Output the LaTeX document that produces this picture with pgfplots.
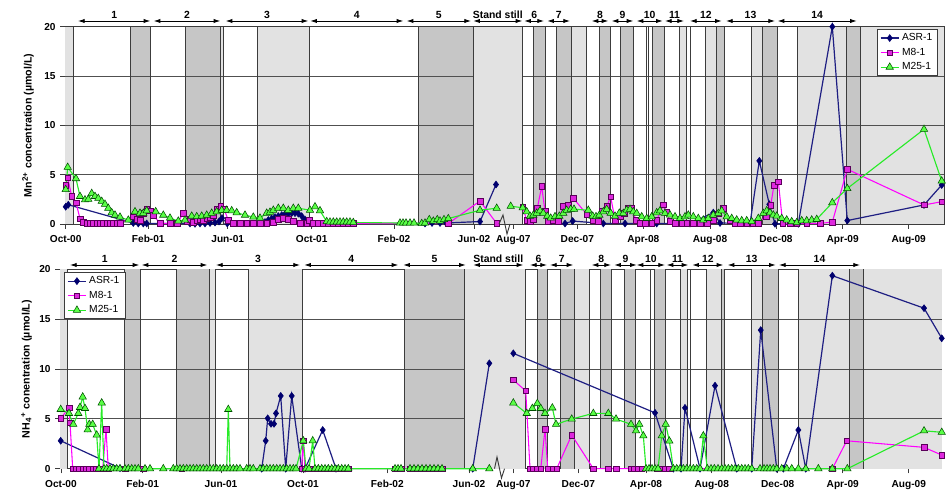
\documentclass[border=0pt]{standalone}
\usepackage{pgfplots}
\pgfplotsset{compat=1.18}
\usepackage{fontspec}
\setmainfont{Liberation Sans}
\usetikzlibrary{arrows.meta}

\definecolor{bandL}{RGB}{226,226,226}
\definecolor{bandD}{RGB}{198,198,198}
\definecolor{edge}{RGB}{60,60,60}
\definecolor{gridc}{RGB}{80,80,80}
\definecolor{navyline}{RGB}{30,30,130}
\definecolor{navyfill}{RGB}{0,0,110}
\definecolor{magline}{RGB}{255,0,255}
\definecolor{magfill}{RGB}{222,40,222}
\definecolor{magedge}{RGB}{90,0,90}
\definecolor{grnline}{RGB}{40,235,40}
\definecolor{grnfill}{RGB}{90,255,70}
\definecolor{grnedge}{RGB}{0,80,0}

% shaded phase band from x=#2 to x=#3
\newcommand{\band}[3]{\addplot[draw=none,fill=#1,forget plot] coordinates {(#2,20) (#3,20)} \closedcycle;}
% horizontal grid segment at level #3 between x=#1 and x=#2
\newcommand{\hgrid}[3]{\addplot[draw=gridc,line width=0.6pt,forget plot] coordinates {(#1,#3) (#2,#3)};}

\pgfplotsset{
  panel/.style={
    scale only axis, ymin=0, ymax=20, ytick={0,5,10,15,20},
    axis line style={draw=edge,line width=0.6pt},
    tick style={draw=edge,line width=0.6pt},
    tick align=outside, major tick length=3.5pt, tick pos=left,
    /pgf/number format/assume math mode=true,
    ticklabel style={font=\fontsize{7.6}{9}\selectfont\bfseries},
    xticklabel style={yshift=-1.5pt},
    label style={font=\fontsize{8}{9.6}\selectfont\bfseries},
    unbounded coords=jump, clip=false,
    legend style={draw=edge,fill=white,font=\fontsize{7.7}{9}\selectfont,
      inner xsep=2pt,inner ysep=1pt,row sep=0pt,cells={anchor=west}},
    legend image code/.code={\draw[mark repeat=2,mark phase=2,##1]
      plot coordinates {(0pt,0pt) (6.75pt,0pt) (13.5pt,0pt)};},
  },
  asr/.style={draw=navyline,line width=0.9pt,mark=diamond*,mark size=2.6pt,
    mark options={fill=navyfill,draw=navyfill,line width=0.4pt}},
  m8/.style={draw=magline,line width=0.8pt,mark=square*,mark size=2.1pt,
    mark options={fill=magfill,draw=magedge,line width=0.4pt}},
  m25/.style={draw=grnline,line width=0.85pt,mark=triangle*,mark size=3.2pt,
    mark options={fill=grnfill,draw=grnedge,line width=0.4pt}},
}

\tikzset{
  arr/.style={{Latex[length=5pt,width=3.2pt]}-{Latex[length=5pt,width=3.2pt]},line width=0.6pt},
  phl/.style={font=\fontsize{7.8}{9}\selectfont\bfseries,inner sep=0pt},
}
% phase arrow from #1 to #2 at height #4 with label #3
\newcommand{\phase}[4]{\draw[arr] (#1,#4) -- (#2,#4); \node[phl] at ({(#1+#2)/2},{#4-6.5}) {#3};}

\begin{document}
\begin{tikzpicture}
\path[use as bounding box] (0,0) rectangle (714pt,371.25pt);

% ---------------- Mn2+ panel ----------------
\begin{axis}[panel,
  at={(48.75pt,203.25pt)}, anchor=south west,
  width=659.25pt, height=147.98pt,
  xmin=65, xmax=944,
  xtick={65.7,148.3,227.7,311.7,394,474,513.3,577.3,643.3,710,776,842.7,908.7},
  xticklabels={Oct-00,Feb-01,Jun-01,Oct-01,Feb-02,Jun-02,Aug-07,Dec-07,Apr-08,Aug-08,Dec-08,Apr-09,Aug-09},
  ylabel={Mn\textsuperscript{2+} concentration (µmol/L)},
  ylabel style={at={(axis description cs:-0.042,0.5)},anchor=center},
  legend style={at={(0.924,0.987)},anchor=north west},
]
\band{bandL}{65}{73.5}
\band{bandD}{130.7}{150.3}
\band{bandD}{185}{220.5}
\band{bandL}{220.5}{223}
\band{bandL}{257.3}{309.3}
\band{bandD}{418.5}{473.3}
\band{bandD}{533.3}{545.5}
\band{bandD}{556.7}{571}
\band{bandL}{571}{586.7}
\band{bandD}{599}{610.3}
\band{bandD}{620.7}{633.3}
\band{bandD}{652.7}{664}
\band{bandL}{679.3}{686.7}
\band{bandL}{705.7}{716.7}
\band{bandD}{716.7}{724.5}
\band{bandL}{751.7}{762.5}
\band{bandD}{762.5}{777.7}
\band{bandL}{797.7}{846.7}
\band{bandD}{846.7}{860.7}
\band{bandL}{860.7}{944}
\hgrid{65}{944}{5}
\hgrid{65}{944}{10}
\hgrid{65}{944}{15}
\band{bandL}{473.3}{522.5}
\addplot[ycomb,draw=edge,line width=0.6pt,forget plot] coordinates {
 (73.5,20) (130.7,20) (150.3,20) (185,20) (220.5,20) (223,20) (257.3,20)
 (309.3,20) (418.5,20) (473.3,20) (522.5,20) (533.3,20) (545.5,20) (556.7,20)
 (571,20) (586.7,20) (599,20) (610.3,20) (620.7,20) (633.3,20) (646,20)
 (648.3,20) (652.7,20) (664,20) (679.3,20) (686.7,20) (690,20) (705.7,20)
 (716.7,20) (724.5,20) (751.7,20) (762.5,20) (777.7,20) (797.7,20) (846.7,20)
 (860.7,20)};

\addplot[asr] coordinates {
 (65.7,1.75) (68.3,1.95) (133.3,0.1) (138.3,0.05) (143.3,0.05) (146.7,0.05)
 (190,0.05) (195,0.02) (200,0.05) (205,0.05) (210,0.1) (215,0.15) (219,0.25)
 (222,0.6) (227.3,0.05) (265,0.2) (268.3,0.4) (271.7,0.55) (275,0.7)
 (278.3,0.8) (281.7,0.9) (285,1.0) (288.3,1.05) (291.7,1.1) (295,1.1)
 (298.3,1.05) (301.7,0.8) (305,0.45) (308.3,0.15) (312,0.05) (425,0.05)
 (432,0.1) (440,0.1) (446,0.1) (480,0.25) (496,4.0) (505,nan)
 (565,0.05) (572.7,0.3) (603.3,0.05) (625,0.05) (656.7,0.05) (690,0.05)
 (713.3,1.15) (720,0.1) (750,0.05) (759.3,6.4) (769.3,2.0) (775,0.02)
 (798.3,0.02) (832.3,20) (847.3,0.35) (924,1.93) (941.7,3.95)};
\addlegendentry{ASR-1}
\addplot[m8] coordinates {
 (65.7,3.95) (67.7,4.7) (71.7,2.8) (76,2.15) (80,0.55) (83.3,0.2) (86.7,0.05)
 (90,0.05) (93.3,0.05) (96.7,0.05) (100,0.05) (103.3,0.05) (106.7,0.05)
 (110,0.05) (113.3,0.05) (116.7,0.05) (120,0.05) (133.3,0.75) (136.7,0.5)
 (140,0.4) (143.3,1.1) (146.7,1.5) (150,1.35) (153.3,0.9) (160,0.05)
 (170,0.05) (177,0.05) (183.3,1.1) (186.7,0.3) (190,0.45) (193.3,0.2)
 (196.7,0.35) (200,0.5) (203.3,0.4) (206.7,0.6) (210,0.7) (213.3,0.9)
 (216.7,1.5) (220.7,1.8) (224,1.5) (228.3,0.4) (233.3,0.05) (240,0.05)
 (246.7,0.05) (253.3,0.05) (260,0.05) (266.7,0.05) (273.3,0.2) (278.3,0.45)
 (283.3,0.6) (288.3,0.5) (293.3,0.3) (300,0.05) (306.7,0.1) (309.3,0.35)
 (313.3,0.05) (318,0.05) (323,0.05) (328,0.05) (333,0.05) (338,0.05)
 (343,0.05) (348,0.05) (353,0.05) (448.3,0.05) (480,2.33) (496.7,0.05)
 (505,nan)
 (522.7,1.75) (526.7,0.35) (530,0.3) (533.3,0.5) (537.3,1.6) (541.7,3.8)
 (545,1.3) (548.3,0.3) (553.3,0.35) (558,0.3) (563.3,1.8) (568.3,1.9)
 (573.3,2.6) (586.7,1.0) (593.3,0.4) (598,0.3) (601.7,1.35) (606.7,1.8)
 (610.7,2.75) (615,0.4) (620,0.8) (624,1.1) (628.3,1.6) (631.7,1.6)
 (636,0.4) (640,0.05) (645,0.05) (651.7,0.05) (656.7,0.4) (663.3,1.95)
 (666.7,1.2) (670,0.3) (675,0.05) (681.7,0.05) (686.7,0.05) (693.3,0.05)
 (700,0.05) (707.3,0.05) (713.3,0.4) (718.3,1.05) (723.3,1.6) (730,0.4)
 (735,0.05) (740,0.05) (746.7,0.05) (753.3,0.05) (758.3,0.05) (766,0.8)
 (770.7,1.9) (774,3.95) (778.3,4.3) (782.7,0.05) (790,0.05) (796.7,0.05)
 (806.7,0.05) (820,0.05) (832.3,0.2) (847.3,5.55) (924,1.93) (941.7,2.26)};
\addlegendentry{M8-1}
\addplot[m25] coordinates {
 (65.7,3.5) (67.7,5.75) (76,4.6) (80,2.8) (85,2.45) (88.3,2.5) (91.7,3.1)
 (95,2.8) (98.3,2.6) (101.7,2.3) (105,2.0) (108.3,1.6) (111.7,1.15) (115,0.9)
 (120,0.7) (128.3,0.4) (135,1.25) (140,1.1) (143.3,1.1) (146.7,1.35)
 (155.7,1.25) (163.3,0.9) (170,0.6) (178.3,0.3) (185,0.4) (191.7,0.8)
 (196.7,0.75) (201.7,0.8) (206.7,0.9) (211.7,1.1) (216.7,1.25) (221.7,1.4)
 (226.7,1.4) (231.7,1.35) (236.7,1.15) (245,0.9) (253.3,0.7) (260,0.6)
 (266.7,1.1) (270,1.2) (273.3,1.4) (278.3,1.6) (283.3,1.6) (288.3,1.4)
 (293.3,1.6) (298.3,1.6) (310,1.4) (315,1.75) (320,1.35) (326.7,0.25)
 (330,0.2) (333.3,0.2) (336.7,0.2) (340,0.2) (343.3,0.2) (346.7,0.2)
 (350,0.2) (353.3,0.15) (400,0.1) (403,0.1) (406,0.1) (410,0.1) (414,0.1)
 (421.7,0.05) (425,0.1) (429.3,0.45) (433.3,0.3) (437.3,0.45) (440,0.3)
 (444,0.45) (448.3,0.55) (480,1.4) (496.7,1.6) (505,nan)
 (510.7,1.8) (522.7,1.65) (526.7,1.25) (530,0.8) (533.3,0.9) (536.7,1.1)
 (540,1.35) (543.3,1.1) (547.3,0.8) (550.7,0.6) (555,0.75) (559.3,0.8)
 (563.3,1.1) (566.7,1.4) (570.7,1.5) (574,1.5) (588.3,1.4) (592.7,0.8)
 (596,0.75) (599.3,0.9) (603.3,1.25) (606.7,1.5) (610.7,1.1) (615,0.8)
 (619.3,1.1) (623.3,1.08) (626.7,1.42) (630,1.49) (633.3,1.25) (636.7,1.08)
 (641.7,0.74) (646.7,0.57) (651.7,0.74) (656.7,1.15) (660,1.35) (665,1.08)
 (670,0.91) (675,0.74) (680,0.57) (685,0.74) (688.3,0.91) (693.3,0.74)
 (698.3,0.57) (703.3,0.41) (708.3,0.57) (713.3,0.91) (718.3,1.08)
 (721.7,1.35) (726.7,0.74) (731.7,0.57) (736.7,0.41) (741.7,0.34)
 (746.7,0.34) (751.7,0.24) (758.3,0.57) (763.3,1.08) (766.7,1.35)
 (770,1.15) (773.3,0.91) (776.7,0.81) (781.7,0.57) (786.7,0.41) (791.7,0.24)
 (796.7,0.14) (801.7,0.34) (806.7,0.34) (811.7,0.41) (816.7,0.47)
 (832.3,2.16) (847.3,3.6) (924,9.6) (941.7,4.36)};
\addlegendentry{M25-1}
\end{axis}

% ---------------- NH4+ panel ----------------
\begin{axis}[panel,
  at={(45pt,19.725pt)}, anchor=south west,
  width=661.3pt, height=149.55pt,
  xmin=60, xmax=941.7,
  xtick={61,142.7,221,303,387.3,469,513.3,578.3,646,711.7,777.7,842.7,908.7},
  xticklabels={Oct-00,Feb-01,Jun-01,Oct-01,Feb-02,Jun-02,Aug-07,Dec-07,Apr-08,Aug-08,Dec-08,Apr-09,Aug-09},
  ylabel={NH\textsubscript{4}\textsuperscript{+} conentration (µmol/L)},
  ylabel style={at={(axis description cs:-0.038,0.5)},anchor=center},
  legend style={at={(0.005,0.985)},anchor=north west},
]
\band{bandL}{60}{67.3}
\band{bandD}{124}{140.7}
\band{bandD}{176.7}{209.3}
\band{bandL}{209.3}{215}
\band{bandL}{248.3}{302.3}
\band{bandD}{404}{464}
\band{bandD}{537.7}{547.3}
\band{bandD}{560.3}{574.3}
\band{bandL}{574.3}{589.7}
\band{bandD}{600.7}{611.7}
\band{bandD}{624.3}{635}
\band{bandD}{654}{665}
\band{bandL}{680.3}{687.3}
\band{bandL}{706}{721.7}
\band{bandD}{721.7}{724.3}
\band{bandL}{751.7}{762.7}
\band{bandD}{762.7}{778.3}
\band{bandL}{798.3}{849}
\band{bandD}{849}{863.3}
\band{bandL}{863.3}{941.7}
\hgrid{60}{941.7}{5}
\hgrid{60}{941.7}{10}
\hgrid{60}{941.7}{15}
\band{bandL}{464}{525.7}
\addplot[ycomb,draw=edge,line width=0.6pt,forget plot] coordinates {
 (67.3,20) (124,20) (140.7,20) (176.7,20) (209.3,20) (215,20) (248.3,20)
 (302.3,20) (404,20) (464,20) (525.7,20) (537.7,20) (547.3,20) (560.3,20)
 (574.3,20) (589.7,20) (600.7,20) (611.7,20) (624.3,20) (635,20) (650.7,20)
 (654,20) (665,20) (680.3,20) (687.3,20) (690,20) (706,20) (721.7,20)
 (724.3,20) (751.7,20) (762.7,20) (778.3,20) (798.3,20) (849,20) (863.3,20)};

\addplot[asr] coordinates {
 (60.7,2.8) (120,0.05) (190,nan)
 (261.7,0) (265.7,2.8) (267.7,5.05) (271,4.5) (274,4.5) (276,5.55)
 (280.7,7.3) (285.7,0) (291.7,7.3) (301.7,0) (305,0) (322.7,3.88) (336,0)
 (400,nan)
 (472.7,0) (489.3,10.57) (505,nan)
 (513.3,11.57) (655,5.6) (673.3,0) (681,0) (685,6.1) (700,0) (715,8.33)
 (736.7,0) (751.7,0) (760.7,13.9) (776.7,0) (783.3,0) (798.3,3.88)
 (805.7,0) (832.3,19.36) (924,16.1) (941.7,13.08)};
\addlegendentry{ASR-1}
\addplot[m8] coordinates {
 (60.7,5.05) (69,6.1) (70,4.6) (72.7,0) (76,0) (79.3,0) (82.7,0) (86,0)
 (89.3,0) (92.7,0) (96,0) (99.3,0) (102.7,0) (106,3.95) (108.3,0) (125,0)
 (143.3,0) (181.7,0) (301.7,0) (303.3,2.8) (305,0) (308.3,0) (311.7,0)
 (315,0) (318.3,0) (321.7,0) (325,0) (328.3,0) (331.7,0) (335,0) (338.3,0)
 (341.7,0) (345,0) (348.3,0) (395,0) (398,0) (401,0) (410,0) (414,0)
 (418,0) (422,0) (426,0) (430,0) (434,0) (438,0) (442,0) (505,nan)
 (513.3,8.9) (525.7,7.8) (530,0) (533.3,0) (537.3,0) (540.7,0) (545,3.95)
 (547.7,0) (553.3,0) (556.7,0) (571.7,3.38) (593.3,0) (608.3,0) (616,0)
 (631,0) (634.3,0) (637.7,0) (641.7,0) (656.7,0) (661.7,0) (665,0)
 (669.3,0) (832.3,0) (846.7,2.8) (924,2.14) (941.7,1.37)};
\addlegendentry{M8-1}
\addplot[m25] coordinates {
 (60.7,5.95) (69,5.55) (73.3,4.45) (78.3,5.55) (80,6.15) (82.7,7.2)
 (85,6.05) (87.7,3.9) (89.3,4.45) (92.7,4.45) (96.7,3.38) (99,0) (101.7,6.6)
 (104,0) (106.7,0) (110,0) (113.3,0) (116.7,0) (120,0) (125,0) (128.3,0)
 (131.7,0) (135,0) (138.3,0) (145,0) (150,0) (163.3,0) (173.3,0) (176.7,0)
 (180,0) (183.3,0) (186.7,0) (190,0) (193.3,0) (196.7,0) (200,0) (203.3,0)
 (206.7,0) (210,0) (213.3,0) (216.7,0) (220,0) (223.3,0) (226.7,0)
 (228.3,5.95) (230,0) (233.3,0) (236.7,0) (240,0) (246.7,0) (250,0)
 (253.3,0) (260,0) (263.3,0) (266.7,0) (270,0) (273.3,0) (276.7,0) (280,0)
 (283.3,0) (286.7,0) (290,0) (293.3,0) (296,0) (303.3,2.8) (306,0) (309,0)
 (312.7,2.8) (315,0) (318.3,0) (321.7,0) (325,0) (328.3,0) (331.7,0)
 (335,0) (338.3,0) (341.7,0) (345,0) (348.3,0) (395,0) (398,0) (401,0)
 (410,0) (414,0) (418,0) (422,0) (426,0) (430,0) (434,0) (438,0) (442,0)
 (472.7,0) (489.3,0) (505,nan)
 (513.3,6.6) (526.7,5.55) (532.3,6.05) (537.3,6.55) (540.7,6.05) (545,5.55)
 (552.3,6.1) (556,4.45) (571.7,4.98) (593.3,5.55) (608.3,5.55) (616,4.98)
 (631,4.45) (636,3.8) (639.3,4.45) (643.3,3.3) (646,0) (649,0) (652,0)
 (655,0) (658,0) (661.7,3.3) (665.7,4.45) (669.3,2.78) (673.3,0) (676.7,0)
 (680,0) (683.3,0) (686.7,0) (690,0) (693.3,0) (696.7,0) (700,0)
 (703.3,3.3) (707.3,0) (711,0) (714.3,0) (718,0) (721.7,0) (725,0)
 (728.3,0) (731.7,0) (735,0) (738.3,0) (741.7,0) (745,0) (748.3,0)
 (751.7,0) (760,0) (764,0) (767,0) (770,0) (773.3,0) (776.7,0) (781.7,0)
 (786.7,0) (791.7,0) (798.3,0) (805.7,0) (818.3,0) (832.3,0) (847.3,0)
 (924,3.8) (941.7,3.65)};
\addlegendentry{M25-1}
\end{axis}

% phase arrows, labels and axis breaks (pixel grid of the page)
\begin{scope}[x=0.75pt,y=-0.75pt,shift={(0pt,371.25pt)}]
\phase{78}{150.3}{1}{21}
\phase{153.7}{220.3}{2}{21}
\phase{225.7}{308.3}{3}{21}
\phase{310.3}{403.3}{4}{21}
\phase{406.7}{471}{5}{21}
\phase{473.3}{522.3}{Stand still}{21}
\phase{524.3}{544}{6}{21}
\phase{547.3}{570}{7}{21}
\phase{591.7}{608.3}{8}{21}
\phase{611.7}{633.3}{9}{21}
\phase{636.7}{662.7}{10}{21}
\phase{665}{684}{11}{21}
\phase{690}{721.7}{12}{21}
\phase{726}{775}{13}{21}
\phase{777.7}{856.7}{14}{21}

\phase{70}{139.3}{1}{265}
\phase{141.7}{207.3}{2}{265}
\phase{216}{300}{3}{265}
\phase{304.3}{398.3}{4}{265}
\phase{403.3}{465.7}{5}{265}
\phase{473.3}{523.3}{Stand still}{265}
\phase{530}{547}{6}{265}
\phase{550}{573.3}{7}{265}
\phase{591.7}{611}{8}{265}
\phase{614.3}{636.7}{9}{265}
\phase{636.7}{665}{10}{265}
\phase{666.7}{688.3}{11}{265}
\phase{692.3}{723.3}{12}{265}
\phase{727.7}{775.7}{13}{265}
\phase{779}{860}{14}{265}

\draw[edge,line width=0.7pt] (499,224) -- (503,215) -- (507,234) -- (510,224);
\draw[edge,line width=0.7pt] (494.5,468.7) -- (497,457) -- (501.5,478) -- (504.5,468.7);
\end{scope}
\end{tikzpicture}
\end{document}
